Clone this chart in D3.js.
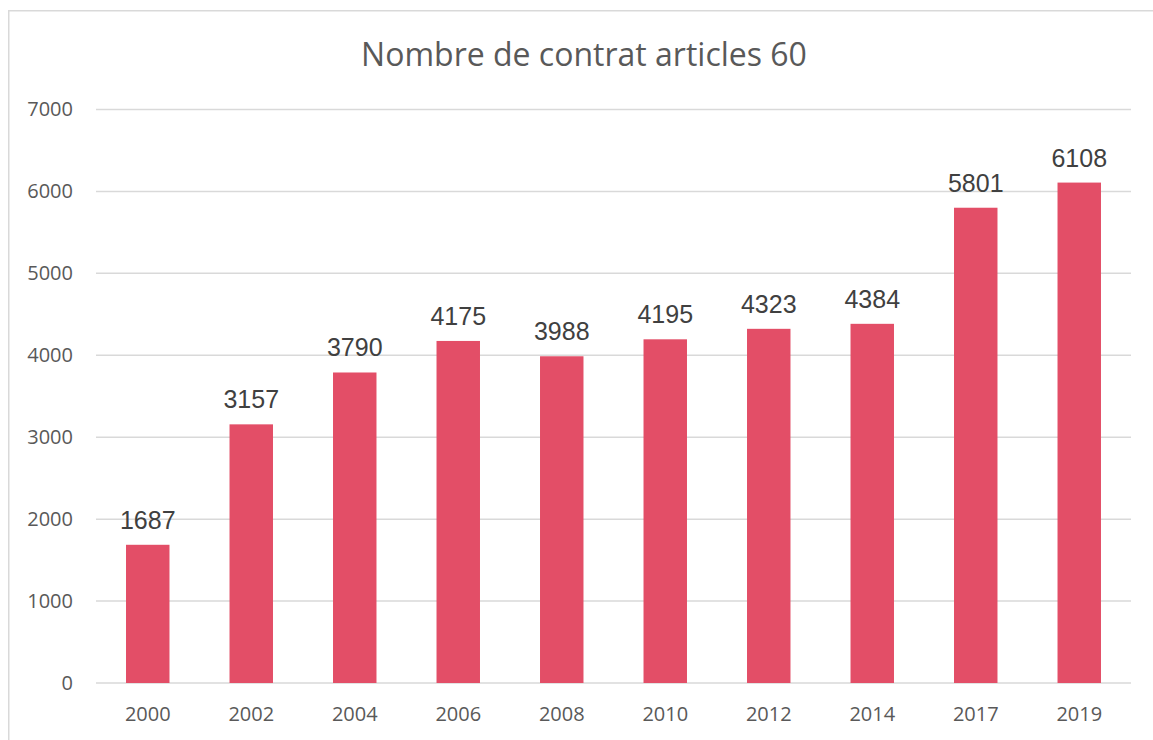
<!DOCTYPE html>
<html>
<head>
<meta charset="utf-8">
<script src="https://cdn.jsdelivr.net/npm/d3@7"></script>
<style>
  body { margin: 0; background: #fff; }
  svg { display: block; }
</style>
</head>
<body>
<svg id="chart"></svg>
<script>
var width = 1153;
var height = 740;

// data
var years = ["2000","2002","2004","2006","2008","2010","2012","2014","2017","2019"];
var contrats = [1687,3157,3790,4175,3988,4195,4323,4384,5801,6108];
var yTicks = [0,1000,2000,3000,4000,5000,6000,7000];
var title = "Nombre de contrat articles 60";

var rows = years.map(function(y, i) { return {year: y, value: contrats[i]}; });

var svg = d3.select('#chart')
    .attr('width', width)
    .attr('height', height);

// outer frame of the chart (runs past the right/bottom edge)
svg.append('rect')
    .attr('x', 8.75).attr('y', 10.75)
    .attr('width', 1300).attr('height', 900)
    .attr('fill', 'none')
    .attr('stroke', '#d9d9d9')
    .attr('stroke-width', 1.5);

var x = d3.scaleBand()
    .domain(years)
    .range([96, 1131])
    .paddingInner(0.58)
    .paddingOuter(0.29);

var y = d3.scaleLinear()
    .domain([0, 7000])
    .range([683, 109.5]);

// gridlines
svg.append('g').selectAll('line')
    .data(yTicks)
  .enter().append('line')
    .attr('x1', 96).attr('x2', 1131)
    .attr('y1', function(d) { return y(d); })
    .attr('y2', function(d) { return y(d); })
    .attr('stroke', '#d9d9d9')
    .attr('stroke-width', 1.5);

// y axis labels
var yAxis = svg.append('g')
    .attr('transform', 'translate(73,0)')
    .call(d3.axisLeft(y).tickValues(yTicks).tickFormat(d3.format('d')).tickSize(0).tickPadding(0));
yAxis.select('.domain').remove();
yAxis.selectAll('text')
    .attr('font-family', '"Open Sans", sans-serif')
    .attr('font-size', '20px')
    .attr('fill', '#595959');

// x axis labels
var xAxis = svg.append('g')
    .attr('transform', 'translate(0,707)')
    .call(d3.axisBottom(x).tickSize(0).tickPadding(0));
xAxis.select('.domain').remove();
xAxis.selectAll('text')
    .attr('font-family', '"Open Sans", sans-serif')
    .attr('font-size', '20px')
    .attr('fill', '#595959');

// bars
svg.append('g').selectAll('rect')
    .data(rows)
  .enter().append('rect')
    .attr('x', function(d) { return x(d.year); })
    .attr('y', function(d) { return y(d.value); })
    .attr('width', x.bandwidth())
    .attr('height', function(d) { return y(0) - y(d.value); })
    .attr('fill', '#e34e67');

// value labels
svg.append('g').selectAll('text')
    .data(rows)
  .enter().append('text')
    .attr('x', function(d) { return x(d.year) + x.bandwidth() / 2; })
    .attr('y', function(d) { return y(d.value) - 16; })
    .attr('text-anchor', 'middle')
    .attr('font-family', '"Liberation Sans", Arial, sans-serif')
    .attr('font-size', '25px')
    .attr('fill', '#404040')
    .text(function(d) { return d.value; });

// title
svg.append('text')
    .attr('x', 584)
    .attr('y', 66)
    .attr('text-anchor', 'middle')
    .attr('font-family', '"Open Sans", sans-serif')
    .attr('font-size', '32px')
    .attr('fill', '#595959')
    .text(title);
</script>
</body>
</html>
